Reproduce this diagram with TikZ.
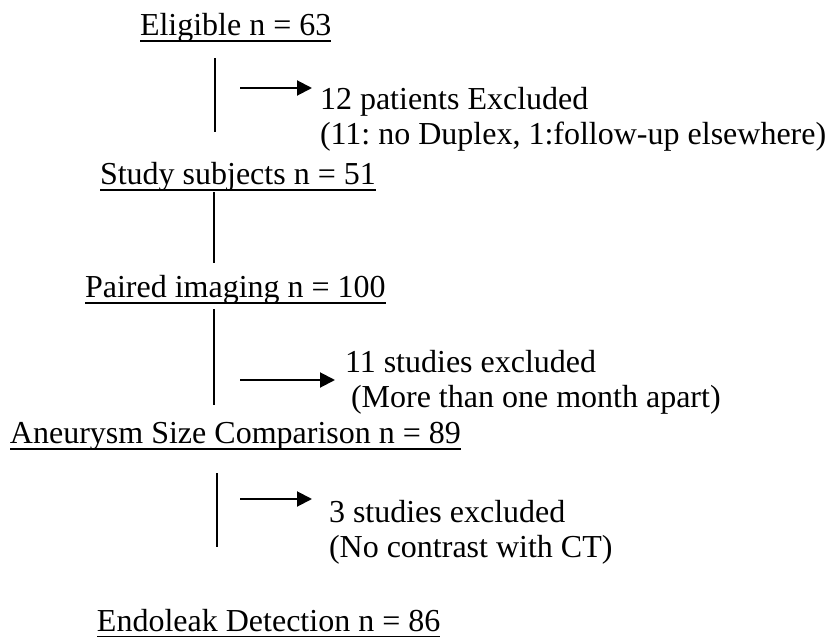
\documentclass[tikz,border=0pt]{standalone}
\usepackage{fontspec}
\setmainfont{Liberation Serif}
\usetikzlibrary{arrows.meta}
\frenchspacing
\begin{document}
\begin{tikzpicture}[x=0.5pt,y=-0.5pt,
  txt/.style={anchor=base west,inner sep=0pt,outer sep=0pt,font=\fontsize{16}{19}\selectfont},
  uline/.style={line width=1pt},
  vline/.style={line width=1pt},
  exarrow/.style={line width=1pt,-{Triangle[length=7.5pt,width=7.5pt]}}]
\useasboundingbox (0,0) rectangle (831,637);
% main nodes
\node[txt] (elig)   at (140,35)  {Eligible n = 63};
\node[txt] (study)  at (100,184) {Study subjects n = 51};
\node[txt] (paired) at (85,297)  {Paired imaging n = 100};
\node[txt] (aneur)  at (10,443)  {Aneurysm Size Comparison n = 89};
\node[txt] (endo)   at (97,631)  {Endoleak Detection n = 86};
% exclusion texts
\node[txt] (exa1) at (320,109) {12 patients Excluded};
\node[txt] (exb1) at (320,144) {(11: no Duplex, 1:follow-up elsewhere)};
\node[txt] (exa2) at (345,372) {11 studies excluded};
\node[txt] (exb2) at (351,407) {(More than one month apart)};
\node[txt] (exa3) at (329,522) {3 studies excluded};
\node[txt] (exb3) at (329,557) {(No contrast with CT)};
% underlines
\foreach \n in {elig,study,paired,aneur,endo}
  \draw[uline] ([yshift=-2.75pt]\n.base west) -- ([yshift=-2.75pt]\n.base east);
% vertical connectors
\coordinate (v1a) at (215,58);  \coordinate (v1b) at (215,132);
\coordinate (v2a) at (214,192); \coordinate (v2b) at (214,263);
\coordinate (v3a) at (214,309); \coordinate (v3b) at (214,405);
\coordinate (v4a) at (217,473); \coordinate (v4b) at (217,547);
\draw[vline] (v1a) -- (v1b);
\draw[vline] (v2a) -- (v2b);
\draw[vline] (v3a) -- (v3b);
\draw[vline] (v4a) -- (v4b);
% exclusion arrows
\coordinate (a1s) at (240,88);  \coordinate (a1e) at (312,88);
\coordinate (a2s) at (240,380); \coordinate (a2e) at (335,380);
\coordinate (a3s) at (240,499); \coordinate (a3e) at (312,499);
\draw[exarrow] (a1s) -- (a1e);
\draw[exarrow] (a2s) -- (a2e);
\draw[exarrow] (a3s) -- (a3e);
\end{tikzpicture}
\end{document}
